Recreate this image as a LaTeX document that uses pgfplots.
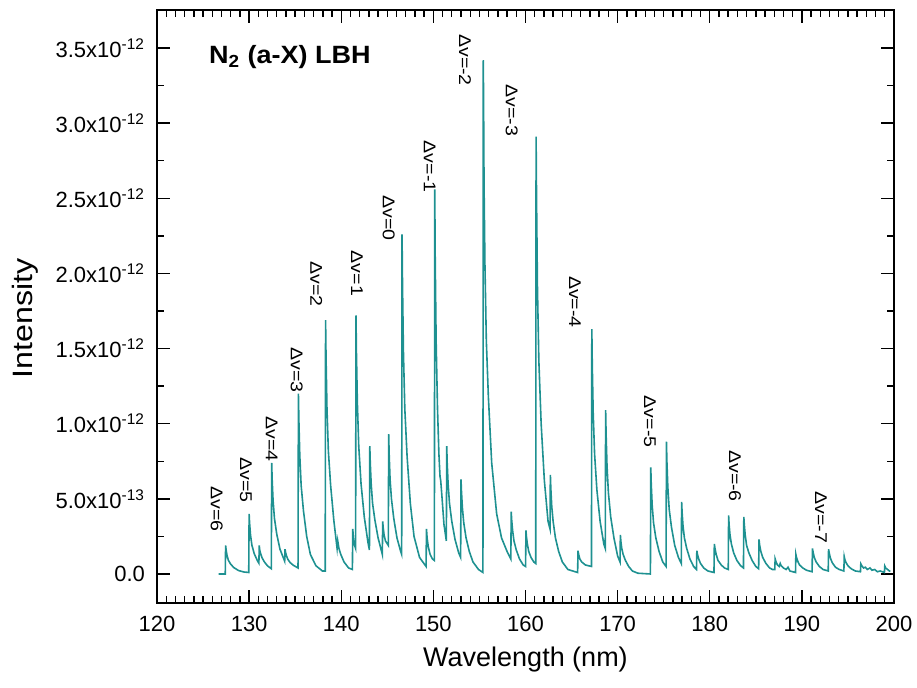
\documentclass[border=0pt]{standalone}
\usepackage{fontspec}
\setmainfont{Liberation Sans}
\newfontfamily\widefont[FakeStretch=1.15]{Liberation Sans}
\newfontfamily\titlefont[FakeStretch=1.08]{Liberation Sans}
\newfontfamily\ylabfont[FakeStretch=1.15]{Liberation Sans}
\usepackage{pgfplots}
\pgfplotsset{compat=1.18}
\definecolor{spec}{RGB}{30,145,145}
\begin{document}
\begin{tikzpicture}
\useasboundingbox (-78.5pt,-42.5pt) rectangle (380pt,301.5pt);
\begin{axis}[
  at={(0,0)}, anchor=south west,
  scale only axis, width=368.5pt, height=296.5pt,
  xmin=120, xmax=200, ymin=-0.193, ymax=3.753,
  xtick={120,130,...,200}, minor x tick num=9,
  ytick={0,0.5,1,1.5,2,2.5,3,3.5}, minor y tick num=1,
  yticklabels={0.0, 5.0x10\textsuperscript{-13}, 1.0x10\textsuperscript{-12}, 1.5x10\textsuperscript{-12}, 2.0x10\textsuperscript{-12}, 2.5x10\textsuperscript{-12}, 3.0x10\textsuperscript{-12}, 3.5x10\textsuperscript{-12}},
  /pgf/number format/assume math mode=true,
  tick align=inside,
  major tick length=6.5pt, minor tick length=3.5pt,
  tick style={black, line width=0.7pt},
  axis line style={line width=0.9pt},
  tick label style={font=\fontsize{11}{13}\selectfont},
  xticklabel style={yshift=-3pt},
  yticklabel style={xshift=-2.5pt},
  xlabel={Wavelength (nm)},
  ylabel={\ylabfont Intensity},
  xlabel style={font=\fontsize{13.5}{16}\selectfont, at={(axis description cs:0.5,-0.0961)}, anchor=center},
  ylabel style={font=\fontsize{14}{16}\selectfont, at={(axis description cs:-0.179,0.48)}, anchor=center},
]
\addplot[spec, line width=0.8pt] coordinates {
(126.7,0) (127.41,0)
(127.45,0.19) (127.5,0.162) (127.6,0.124) (127.75,0.091) (128.0,0.065) (128.35,0.042) (128.85,0.023) (129.45,0.013)
(129.96,0.01) (130.0,0.40) (130.05,0.34) (130.15,0.26) (130.3,0.192) (130.55,0.136) (130.9,0.088) (131.06,0.072)
(131.1,0.19) (131.15,0.16) (131.25,0.135) (131.4,0.108) (131.65,0.081) (132.0,0.054) (132.41,0.035)
(132.45,0.74) (132.5,0.63) (132.6,0.49) (132.75,0.37) (133.0,0.265) (133.35,0.165) (133.86,0.085)
(133.9,0.165) (133.95,0.145) (134.05,0.122) (134.2,0.098) (134.45,0.076) (134.8,0.058) (135.31,0.04)
(135.35,1.2) (135.4,1.026) (135.5,0.79) (135.65,0.587) (135.9,0.42) (136.25,0.25) (136.65,0.13) (137.25,0.055) (137.95,0.02) (138.26,0.02)
(138.3,1.69) (138.35,1.44) (138.45,1.105) (138.6,0.82) (138.85,0.588) (139.2,0.354) (139.55,0.17)
(139.62,0.22) (139.75,0.17) (139.95,0.13) (140.3,0.08) (140.8,0.04) (141.21,0.03)
(141.25,0.30) (141.32,0.24) (141.4,0.2) (141.56,0.17)
(141.6,1.72) (141.65,1.47) (141.75,1.14) (141.9,0.85) (142.15,0.6) (142.5,0.38) (142.9,0.21) (143.06,0.16)
(143.1,0.85) (143.15,0.74) (143.25,0.6) (143.4,0.47) (143.65,0.36) (144.0,0.24) (144.46,0.13)
(144.5,0.35) (144.55,0.31) (144.65,0.26) (144.8,0.22) (145.11,0.19)
(145.15,0.93) (145.2,0.8) (145.3,0.63) (145.45,0.5) (145.7,0.37) (146.05,0.24) (146.45,0.15) (146.56,0.13)
(146.6,2.26) (146.65,1.93) (146.75,1.48) (146.9,1.1) (147.15,0.78) (147.5,0.47) (147.9,0.25) (148.5,0.11) (149.21,0.05)
(149.25,0.30) (149.32,0.24) (149.45,0.18) (149.65,0.13) (149.9,0.10) (150.11,0.09)
(150.15,2.56) (150.2,2.1) (150.3,1.55) (150.45,1.1) (150.6,0.8) (150.72,0.65) (150.8,0.62) (150.95,0.5) (151.15,0.33) (151.41,0.22)
(151.45,0.85) (151.5,0.74) (151.6,0.6) (151.75,0.47) (152.0,0.35) (152.35,0.23) (152.75,0.14) (152.96,0.11)
(153.0,0.63) (153.05,0.55) (153.15,0.44) (153.3,0.34) (153.55,0.24) (153.9,0.15) (154.3,0.08) (154.9,0.03) (155.38,0.01)
(155.42,3.42) (155.46,3.05) (155.5,2.6) (155.6,2.05) (155.75,1.55) (155.97,1.18) (156.33,0.74) (156.87,0.40) (157.4,0.24) (158.0,0.15) (158.41,0.1)
(158.45,0.415) (158.5,0.36) (158.6,0.29) (158.75,0.22) (159.0,0.16) (159.35,0.1) (159.75,0.06) (160.01,0.05)
(160.05,0.29) (160.1,0.25) (160.2,0.2) (160.35,0.15) (160.6,0.11) (160.9,0.08) (161.11,0.07)
(161.15,2.91) (161.2,2.5) (161.3,1.9) (161.45,1.42) (161.7,1.0) (162.05,0.62) (162.45,0.35) (162.66,0.3)
(162.7,0.66) (162.75,0.57) (162.85,0.45) (163.0,0.35) (163.25,0.24) (163.6,0.15) (164.0,0.08) (164.6,0.03) (165.66,0.01)
(165.7,0.155) (165.77,0.13) (165.9,0.1) (166.1,0.08) (166.5,0.06) (167.16,0.05)
(167.2,1.63) (167.25,1.39) (167.35,1.07) (167.5,0.8) (167.75,0.56) (168.1,0.35) (168.5,0.2) (168.66,0.17)
(168.7,1.09) (168.75,0.93) (168.85,0.72) (169.0,0.54) (169.25,0.38) (169.6,0.24) (170.0,0.12) (170.26,0.08)
(170.3,0.26) (170.35,0.22) (170.45,0.17) (170.6,0.13) (170.85,0.09) (171.2,0.05) (171.6,0.02) (172.2,0.005) (173.56,0)
(173.6,0.71) (173.65,0.6) (173.75,0.46) (173.9,0.34) (174.15,0.24) (174.5,0.15) (174.9,0.08) (175.26,0.05)
(175.3,0.88) (175.35,0.75) (175.45,0.58) (175.6,0.43) (175.85,0.31) (176.2,0.19) (176.6,0.11) (176.91,0.07)
(176.95,0.48) (177.0,0.41) (177.1,0.32) (177.25,0.24) (177.5,0.17) (177.85,0.1) (178.25,0.05) (178.56,0.03)
(178.6,0.155) (178.67,0.13) (178.8,0.1) (179.0,0.07) (179.35,0.04) (179.8,0.02) (180.46,0.01)
(180.5,0.2) (180.57,0.17) (180.7,0.13) (180.9,0.09) (181.25,0.06) (181.6,0.04) (182.01,0.03)
(182.05,0.39) (182.1,0.33) (182.2,0.26) (182.35,0.2) (182.6,0.14) (182.95,0.09) (183.35,0.055) (183.66,0.04)
(183.7,0.38) (183.75,0.33) (183.85,0.26) (184.0,0.19) (184.25,0.14) (184.6,0.09) (185.0,0.05) (185.31,0.035)
(185.35,0.23) (185.42,0.19) (185.55,0.15) (185.75,0.11) (186.1,0.07) (186.5,0.04) (186.8,0.03) (187.06,0.03)
(187.1,0.10) (187.2,0.08) (187.35,0.06) (187.55,0.05) (187.65,0.07) (187.75,0.055) (188.0,0.04) (188.3,0.03) (188.5,0.045) (188.7,0.02) (189.31,0.01)
(189.35,0.13) (189.42,0.11) (189.55,0.085) (189.75,0.06) (190.1,0.04) (190.5,0.025) (191.11,0.015)
(191.15,0.17) (191.22,0.145) (191.35,0.11) (191.55,0.08) (191.9,0.05) (192.3,0.03) (192.86,0.02)
(192.9,0.165) (192.97,0.14) (193.1,0.105) (193.3,0.075) (193.65,0.045) (194.05,0.03) (194.56,0.02)
(194.6,0.115) (194.67,0.095) (194.8,0.075) (195.0,0.055) (195.35,0.035) (195.8,0.02) (196.36,0.015)
(196.4,0.067) (196.5,0.055) (196.7,0.04) (196.9,0.045) (197.1,0.03) (197.4,0.04) (197.6,0.025) (197.9,0.03) (198.2,0.015) (198.5,0.02) (198.96,0.01)
(199.0,0.053) (199.1,0.04) (199.3,0.03) (199.5,0.02) (199.6,0.02)
};
\node[anchor=west, font=\titlefont\fontsize{12.5}{14}\selectfont\bfseries] at (axis cs:124.9,3.44) {N\textsubscript{2} (a-X) LBH};
\begin{scope}[every node/.style={rotate=-90, anchor=center, font=\widefont\fontsize{8.5}{10}\selectfont}]
\node at (axis cs:126.48,0.432) {Δv=6};
\node at (axis cs:129.66,0.625) {Δv=5};
\node at (axis cs:132.45,0.90) {Δv=4};
\node at (axis cs:135.16,1.357) {Δv=3};
\node at (axis cs:137.3,1.93) {Δv=2};
\node at (axis cs:141.7,2.0) {Δv=1};
\node at (axis cs:145.15,2.367) {Δv=0};
\node at (axis cs:149.6,2.71) {Δv=-1};
\node at (axis cs:153.43,3.42) {Δv=-2};
\node at (axis cs:158.5,3.087) {Δv=-3};
\node at (axis cs:165.37,1.81) {Δv=-4};
\node at (axis cs:173.5,1.013) {Δv=-5};
\node at (axis cs:182.74,0.652) {Δv=-6};
\node at (axis cs:192.08,0.377) {Δv=-7};
\end{scope}
\end{axis}
\end{tikzpicture}
\end{document}
